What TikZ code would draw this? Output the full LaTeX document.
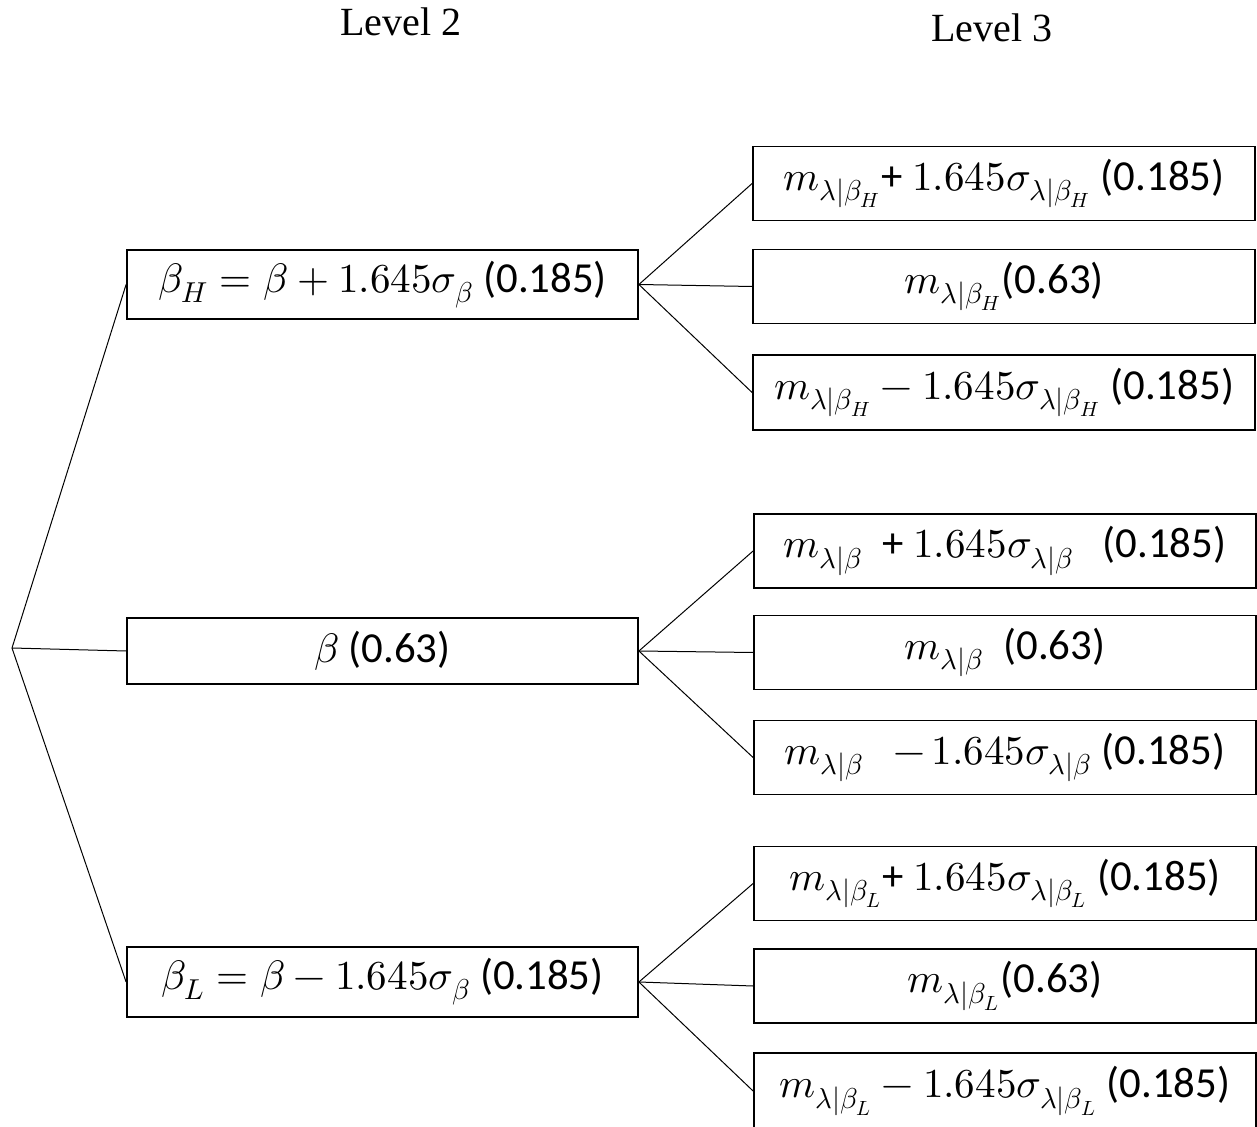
\documentclass[tikz,border=0pt]{standalone}
\usepackage{fontspec}
\usepackage{unicode-math}
\setmainfont{Carlito}
\setmathfont[Scale=0.96]{latinmodern-math.otf}
\newfontfamily\levelfont{Liberation Serif}
\tikzset{
  boxtxt/.style={font=\fontsize{21.4}{25}\selectfont},
  twobox/.style={draw, line width=0.9pt, rectangle, inner sep=0pt, minimum width=255.5pt, boxtxt},
  threebox/.style={draw, line width=0.9pt, rectangle, inner sep=0pt, minimum width=251pt, minimum height=37pt, boxtxt},
  link/.style={line width=0.5pt},
  lvl/.style={font=\levelfont\fontsize{20}{24}\selectfont}
}
\begin{document}
\begin{tikzpicture}[x=0.5pt,y=-0.5pt]
\useasboundingbox (0,0) rectangle (1257,1127);
\clip (0,0) rectangle (1257,1127);
% level labels
\node[lvl] (lv2) at (401,22) {Level 2};
\node[lvl] (lv3) at (992,28) {Level 3};
% root
\coordinate (root) at (12,648);
% level 2
\node[twobox, minimum height=34.5pt] (H) at (382.5,284.5) {$\beta_H=\beta+1.645\sigma_\beta$ (0.185)};
\node[twobox, minimum height=33pt] (M) at (382.5,651) {$\beta$ (0.63)};
\node[twobox, minimum height=35pt] (L) at (382.5,982) {$\beta_L=\beta-1.645\sigma_\beta$ (0.185)};
% level 3, H group
\node[threebox] (H1) at (1004,183.5) {$m_{\lambda|\beta_H}$+ $1.645\sigma_{\lambda|\beta_H}$ (0.185)};
\node[threebox] (H2) at (1004,286.5) {$m_{\lambda|\beta_H}$(0.63)};
\node[threebox, minimum height=37.5pt] (H3) at (1004,392.5) {$m_{\lambda|\beta_H}-1.645\sigma_{\lambda|\beta_H}$ (0.185)};
% level 3, beta group
\node[threebox] (M1) at (1005,551) {$m_{\lambda|\beta}$\ \ + $1.645\sigma_{\lambda|\beta}$\ \ \ (0.185)};
\node[threebox] (M2) at (1005,652.5) {$m_{\lambda|\beta}$\ \ (0.63)};
\node[threebox] (M3) at (1005,757.5) {$m_{\lambda|\beta}$\ \ \ $-\,1.645\sigma_{\lambda|\beta}$ (0.185)};
% level 3, L group
\node[threebox] (L1) at (1005,883.5) {$m_{\lambda|\beta_L}$+ $1.645\sigma_{\lambda|\beta_L}$ (0.185)};
\node[threebox] (L2) at (1005,986) {$m_{\lambda|\beta_L}$(0.63)};
\node[threebox, minimum height=38pt] (L3) at (1005,1091) {$m_{\lambda|\beta_L}-1.645\sigma_{\lambda|\beta_L}$ (0.185)};
% connectors
\draw[link] (root) -- (H.west);
\draw[link] (root) -- (M.west);
\draw[link] (root) -- (L.west);
\draw[link] (H.east) -- (H1.west);
\draw[link] (H.east) -- (H2.west);
\draw[link] (H.east) -- (H3.west);
\draw[link] (M.east) -- (M1.west);
\draw[link] (M.east) -- (M2.west);
\draw[link] (M.east) -- (M3.west);
\draw[link] (L.east) -- (L1.west);
\draw[link] (L.east) -- (L2.west);
\draw[link] (L.east) -- (L3.west);
\end{tikzpicture}
\end{document}
